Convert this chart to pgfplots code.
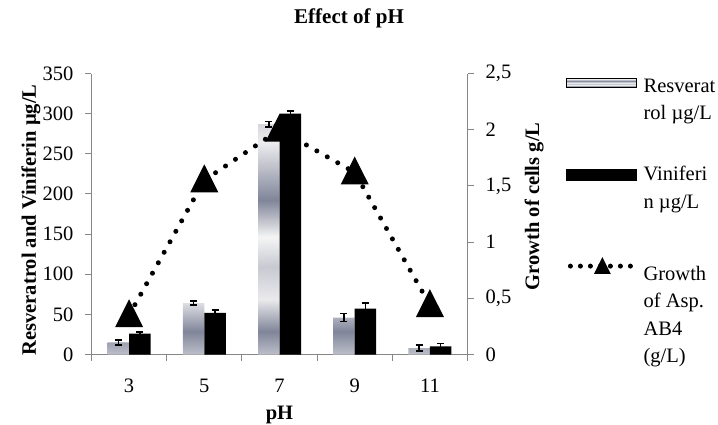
\documentclass[border=0pt]{standalone}
\usepackage{fontspec}
\setmainfont{Liberation Serif}
\usepackage{pgfplots}
\pgfplotsset{compat=1.18}
\definecolor{axisgray}{RGB}{134,134,134}
\pgfdeclareverticalshading{resv}{100bp}{%
 rgb(0bp)=(0.74,0.75,0.79);
 rgb(25bp)=(0.74,0.75,0.79);
 rgb(30bp)=(0.50,0.52,0.60);
 rgb(37bp)=(0.92,0.92,0.93);
 rgb(44bp)=(0.78,0.79,0.82);
 rgb(50.5bp)=(0.96,0.96,0.96);
 rgb(58.5bp)=(0.50,0.52,0.60);
 rgb(71bp)=(0.93,0.93,0.94);
 rgb(75bp)=(0.84,0.84,0.86);
 rgb(100bp)=(0.84,0.84,0.86)}
\newcommand\tickfont{\fontsize{20.5}{24}\selectfont}
\newcommand\labfont{\fontsize{20.5}{24}\selectfont\bfseries}
\newcommand\titfont{\fontsize{21}{25}\selectfont\bfseries}
\newcommand\legfont{\fontsize{20.5}{27.5}\selectfont}
\pgfplotsset{
  common/.style={
    at={(91.5pt,69.5pt)}, anchor=south west,
    scale only axis, width=376pt, height=281pt,
    xmin=-0.5, xmax=4.5,
    tick align=outside,
    major tick length=6pt, minor tick length=6pt,
    axis line style={draw=axisgray, line width=1pt},
    tick style={draw=axisgray, line width=1pt},
    ticklabel style={font=\tickfont},
    /pgf/number format/assume math mode=true,
  },
  resvleg/.style={legend image code/.code={\shade[shading=resv] (0pt,-4pt) rectangle (70pt,5pt);}},
  vinleg/.style={legend image code/.code={\fill[black] (0pt,-8pt) rectangle (70pt,3pt);}},
  growleg/.style={legend image code/.code={%
    \draw[black, line width=5pt, line cap=round, dash pattern=on 0pt off 10pt] (4pt,0pt) -- (66pt,0pt);
    \path[black, mark=triangle*, mark size=5pt] plot coordinates {(36pt,0.5pt)};}},
}
\begin{document}
\begin{tikzpicture}
\path[use as bounding box] (0,0) rectangle (718pt,424pt);
\begin{axis}[common,
  ymin=0, ymax=350, ytick={0,50,...,350},
  axis x line*=bottom, axis y line*=left,
  ybar=0pt, bar width=21.5pt,
  xtick={0,1,2,3,4}, xticklabels={3,5,7,9,11},
  minor xtick={-0.5,0.5,1.5,2.5,3.5,4.5},
  major x tick style={draw=none},
  minor x tick style={draw=axisgray, line width=1pt},
  xticklabel style={anchor=base, yshift=-32.2pt},
  yticklabel style={anchor=east, inner sep=0pt, xshift=-12pt},
  xlabel={pH},
  xlabel style={at={(axis description cs:0.5,-0.2313)}, anchor=base, font=\labfont},
  ylabel={Resveratrol and Viniferin µg/L},
  ylabel style={at={(axis description cs:-0.161,0.479)}, anchor=center, font=\labfont},
  title={Effect of pH},
  title style={at={(axis description cs:0.685,1.158)}, anchor=base, font=\titfont},
  error bars/y dir=both, error bars/y explicit,
  error bars/error bar style={black, line width=1.5pt, solid},
  error bars/error mark options={black, rotate=90, mark size=3.5pt, line width=1.5pt},
]
\addplot[draw=none, shading=resv] coordinates {
 (0,15) +- (0,3)
 (1,64) +- (0,2.5)
 (2,287) +- (0,3.5)
 (3,46) +- (0,4.8)
 (4,8) +- (0,3.7)
};
\addplot[draw=none, fill=black] coordinates {
 (0,26) +- (0,2)
 (1,52) +- (0,3.5)
 (2,300) +- (0,3)
 (3,57) +- (0,7)
 (4,10) +- (0,4)
};
\end{axis}
\begin{axis}[common,
  ymin=0, ymax=2.5, ytick={0,0.5,...,2.5},
  axis x line=none, axis y line*=right,
  yticklabel style={anchor=west, inner sep=0pt, xshift=12pt,
    /pgf/number format/.cd, fixed, use comma},
  ylabel={Growth of cells g/L},
  ylabel style={at={(axis description cs:1.177,0.527)}, anchor=center, font=\labfont},
  legend style={at={(1.262,1.003)}, anchor=north west, draw=none, fill=none,
    inner sep=0pt, row sep=68pt, font=\legfont,
    nodes={inner sep=0pt},
    /tikz/every odd column/.append style={column sep=7pt}},
  legend cell align=left,
]
\addlegendimage{resvleg}
\addlegendentry{\begin{tabular}[t]{@{}l@{}}Resverat\\rol µg/L\end{tabular}}
\addlegendimage{vinleg}
\addlegendentry{\begin{tabular}[t]{@{}l@{}}Viniferi\\n µg/L\end{tabular}}
\addplot[black, line width=5pt, line cap=round, dash pattern=on 0pt off 12pt,
  mark=triangle*, mark size=11.5pt, mark options={solid, yscale=1.15, yshift=-2.5pt},
  growleg]
 coordinates {(0,0.35) (1,1.55) (2,2.0) (3,1.62) (4,0.44)};
\addlegendentry{\begin{tabular}[t]{@{}l@{}}\rule{0pt}{30pt}Growth\\of Asp.\\AB4\\(g/L)\end{tabular}}
\end{axis}
\end{tikzpicture}
\end{document}
